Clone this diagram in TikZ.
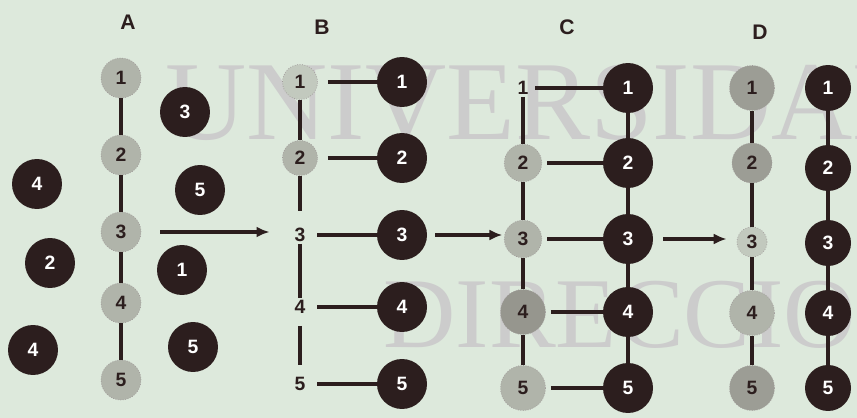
\documentclass[tikz,border=0pt]{standalone}
\usepackage{fontspec}
\setsansfont{Liberation Sans}
\newfontfamily\markfont{Liberation Serif}
\usepackage{tikz}
\usetikzlibrary{arrows.meta,positioning}
\definecolor{paper}{RGB}{221,233,220}
\definecolor{ink}{RGB}{44,30,30}
\definecolor{pale}{RGB}{176,180,170}

\begin{document}
\begin{tikzpicture}[
  x=0.02cm,
  y=-0.02cm,
  newbase/.style={
    circle,
    fill=ink,
    minimum size=1cm,
    inner sep=0pt,
    text=white,
    font=\sffamily\bfseries\fontsize{11}{13}\selectfont
  },
  oldbase/.style={
    circle,
    fill=pale,
    draw=ink!45,
    densely dotted,
    minimum size=0.8cm,
    inner sep=0pt,
    text=ink,
    font=\sffamily\bfseries\fontsize{11}{13}\selectfont
  },
  bare/.style={
    inner sep=1pt,
    text=ink,
    font=\sffamily\bfseries\fontsize{11}{13}\selectfont
  },
  panel/.style={text=ink,font=\sffamily\bfseries\fontsize{12}{14}\selectfont},
  bond/.style={draw=ink,line width=2pt},
  pair/.style={bond,shorten <=2mm},
  goarrow/.style={draw=ink,line width=1.8pt,-{Latex[length=2.6mm,width=2.2mm]}},
  watermark/.style={black!20,anchor=base west,inner sep=0pt,font=\markfont}
]
\useasboundingbox (0,0) rectangle (857,418);
\clip (0,0) rectangle (857,418);
\fill[paper] (0,0) rectangle (857,418);
\node[watermark,font=\markfont\fontsize{64}{64}\selectfont] (wm1) at (165,140) {UNIVERSIDAD};
\node[watermark,font=\markfont\fontsize{57}{57}\selectfont] (wm2) at (383,347) {DIRECCIO};

% A: old strand and loose bases
\node[panel] (la) at (128,22) {A};
\foreach \n/\y in {1/78,2/155,3/232,4/303,5/380}
  \node[oldbase] (a\n) at (121,\y) {\n};
\draw[bond] (a1) -- (a2) (a2) -- (a3) (a3) -- (a4) (a4) -- (a5);
\node[newbase] (f3) at (185,112) {3};
\node[newbase] (f4) at (37,184) {4};
\node[newbase] (f5) at (200,190) {5};
\node[newbase] (f2) at (50,263) {2};
\node[newbase] (f1) at (182,270) {1};
\node[newbase] (g4) at (33,350) {4};
\node[newbase] (g5) at (193,347) {5};

% B: bases pair up
\node[panel] (lb) at (322,27) {B};
\node[oldbase,minimum size=0.7cm,fill=pale!60!paper] (b1) at (300,82) {1};
\node[oldbase,minimum size=0.7cm] (b2) at (300,158) {2};
\node[bare] (b3) at (300,235) {3};
\node[bare] (b4) at (300,307) {4};
\node[bare] (b5) at (300,384) {5};
\draw[bond] (b1) -- (b2);
\draw[bond,shorten >=3mm] (b2) -- (b3);
\draw[bond,shorten <=2mm,shorten >=2mm] (b3) -- (b4) (b4) -- (b5);
\foreach \n/\y in {1/82,2/158,3/235,4/307,5/384} {
  \node[newbase] (nb\n) at (402,\y) {\n};
  \draw[pair] (b\n) -- (nb\n);
}

% C: new strand joined
\node[panel] (lc) at (567,27) {C};
\node[bare] (c1) at (523,88) {1};
\node[oldbase,minimum size=0.75cm] (c2) at (523,163) {2};
\node[oldbase,minimum size=0.75cm] (c3) at (523,239) {3};
\node[oldbase,minimum size=0.9cm,fill=pale!80!ink] (c4) at (523,312) {4};
\node[oldbase,minimum size=0.9cm] (c5) at (523,388) {5};
\draw[bond] (c1) -- (c2) (c2) -- (c3) (c3) -- (c4) (c4) -- (c5);
\foreach \n/\y in {1/88,2/163,3/239,4/312,5/388} {
  \node[newbase] (nc\n) at (628,\y) {\n};
  \draw[pair,shorten <=1mm] (c\n) -- (nc\n);
}
\draw[bond] (nc1) -- (nc2) (nc2) -- (nc3) (nc3) -- (nc4) (nc4) -- (nc5);

% D: strands apart
\node[panel] (ld) at (760,32) {D};
\node[oldbase,minimum size=0.9cm,fill=pale!85!ink] (d1) at (752,88) {1};
\node[oldbase,minimum size=0.8cm,fill=pale!85!ink] (d2) at (752,163) {2};
\node[oldbase,minimum size=0.6cm,fill=pale!60!paper] (d3) at (752,242) {3};
\node[oldbase,minimum size=0.9cm] (d4) at (752,313) {4};
\node[oldbase,minimum size=0.9cm,fill=pale!85!ink] (d5) at (752,388) {5};
\draw[bond] (d1) -- (d2) (d2) -- (d3) (d3) -- (d4) (d4) -- (d5);
\foreach \n/\y in {1/88,2/168,3/243,4/313,5/388}
  \node[newbase,minimum size=0.92cm] (nd\n) at (828,\y) {\n};
\draw[bond] (nd1) -- (nd2) (nd2) -- (nd3) (nd3) -- (nd4) (nd4) -- (nd5);

\draw[goarrow,shorten <=3.8mm,shorten >=4.6mm] (a3.east) -- (a3.east -| b3.west);
\draw[goarrow,shorten <=1.6mm,shorten >=0.3mm] (nb3.east) -- (nb3.east -| c3.west);
\draw[goarrow,shorten <=2mm,shorten >=2mm] (nc3.east) -- (nc3.east -| d3.west);
\end{tikzpicture}
\end{document}
